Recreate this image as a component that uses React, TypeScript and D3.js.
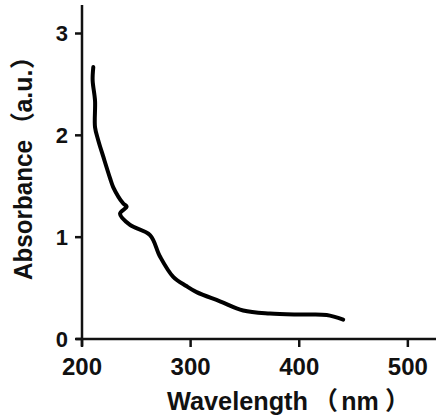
import React from "react";
import * as d3 from "d3";

// values
const wavelength = [
  210.4, 209.8, 212.0, 212.0, 215.0, 219.6, 225.8, 228.8, 238.0, 241.1, 235.0,
  244.2, 262.6, 271.8, 284.0, 296.0, 305.5, 327.0, 348.4, 373.0, 403.6, 425.2,
  440.5,
];
const absorbance = [
  2.67, 2.54, 2.34, 2.08, 1.95, 1.79, 1.58, 1.49, 1.33, 1.3, 1.23, 1.12, 1.02,
  0.81, 0.61, 0.52, 0.46, 0.37, 0.28, 0.25, 0.24, 0.235, 0.19,
];
const xTicks = [200, 300, 400, 500];
const yTicks = [0, 1, 2, 3];

const W = 436;
const H = 419;
const font = "Arial, 'Liberation Sans', 'Noto Sans CJK SC', sans-serif";
const ink = "#111";

export default function App() {
  const x = d3.scaleLinear().domain([200, 525]).range([82, 435]);
  const y = d3.scaleLinear().domain([0, 3]).range([339, 33.5]);

  const pts: [number, number][] = wavelength.map((w, i) => [w, absorbance[i]]);
  const line = d3
    .line<[number, number]>()
    .x((d) => x(d[0]))
    .y((d) => y(d[1]))
    .curve(d3.curveCatmullRom.alpha(0.5));

  const x0 = x(200);
  const y0 = y(0);

  return (
    <svg
      width={W}
      height={H}
      style={{ position: "absolute", left: 0, top: 0, background: "#fff" }}
    >
      {/* axes */}
      <line x1={x0} x2={x0} y1={5} y2={y0 + 7} stroke={ink} strokeWidth={2.5} />
      <line x1={x0 - 6} x2={W} y1={y0} y2={y0} stroke={ink} strokeWidth={2.5} />

      {yTicks.map((t) => (
        <g key={"y" + t}>
          <line x1={x0 - 7} x2={x0} y1={y(t)} y2={y(t)} stroke={ink} strokeWidth={2.5} />
          <text
            x={68}
            y={y(t)}
            textAnchor="end"
            dominantBaseline="central"
            fontFamily={font}
            fontWeight="bold"
            fontSize={22}
            fill={ink}
          >
            {t}
          </text>
        </g>
      ))}

      {xTicks.map((t) => (
        <g key={"x" + t}>
          <line x1={x(t)} x2={x(t)} y1={y0} y2={y0 + 8} stroke={ink} strokeWidth={2.5} />
          <text
            x={x(t)}
            y={375}
            textAnchor="middle"
            fontFamily={font}
            fontWeight="bold"
            fontSize={24}
            fill={ink}
          >
            {t}
          </text>
        </g>
      ))}

      {/* curve */}
      <path
        d={line(pts) ?? ""}
        fill="none"
        stroke="#000"
        strokeWidth={4}
        strokeLinejoin="round"
        strokeLinecap="round"
      />

      {/* axis titles; full-width brackets carry their ink off-centre in the em box */}
      <text y={410} fontFamily={font} fontWeight="bold" fontSize={25} fill={ink}>
        <tspan x={167} textLength={141} lengthAdjust="spacingAndGlyphs">
          Wavelength
        </tspan>
        <tspan x={313}>（</tspan>
        <tspan x={360} textAnchor="middle">nm</tspan>
        <tspan x={385}>）</tspan>
      </text>
      <text
        transform="translate(32,0) rotate(-90)"
        fontFamily={font}
        fontWeight="bold"
        fontSize={25}
        fill={ink}
      >
        <tspan x={-280} textLength={140} lengthAdjust="spacingAndGlyphs">
          Absorbance
        </tspan>
        <tspan x={-137}>（</tspan>
        <tspan x={-91} textAnchor="middle">a.u.</tspan>
        <tspan x={-69}>）</tspan>
      </text>
    </svg>
  );
}
